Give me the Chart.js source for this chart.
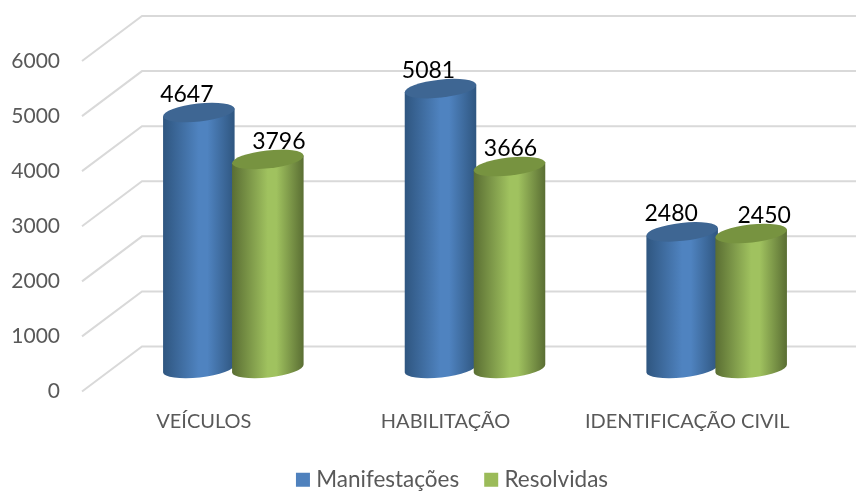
<!DOCTYPE html>
<html lang="pt">
	<head>
		<meta charset="UTF-8" />
		<title>Manifestações</title>
		<script src="https://cdn.jsdelivr.net/npm/chart.js"></script>
		<style>
			html, body { margin: 0; padding: 0; background: #fff; overflow: hidden; }
			#grafico { display: block; }
		</style>
	</head>
	<body>
		<canvas id="grafico" width="856" height="491"></canvas>
		<script>
			const categorias = ["VEÍCULOS", "HABILITAÇÃO", "IDENTIFICAÇÃO CIVIL"];
			const manifestacoes = [4647, 5081, 2480];
			const resolvidas = [3796, 3666, 2450];
			const yTicks = [0, 1000, 2000, 3000, 4000, 5000, 6000];

			const fonte = "Lato, Carlito, sans-serif";

			// profundidade do grafico "3D": parede de tras fica deslocada do plano da frente
			const depthX = 60;
			const depthY = -45;
			// as barras ficam no meio, um pouco mais pra baixo que a metade
			const barDX = 29.5;
			const barDY = -23;

			// ajuste dos rotulos (igual ao original, foram movidos a mao)
			const labelDX = [[-12, -12, -11], [11, 1, 13]];

			const cores = [
				{ edge: "#2f5680", mid: "#4f83c0", top: "#3e6693" },
				{ edge: "#5a6e33", mid: "#a0c25f", top: "#779340" },
			];

			const cilindros = {
				id: "cilindros",
				afterLayout(chart) {
					// legenda centralizada fora do centro, como no original
					chart.legend.left += 45.5;
					chart.legend.right += 45.5;
					chart.legend.top += 10;
					chart.legend.bottom += 10;
				},
				beforeDatasetsDraw(chart) {
					const ctx = chart.ctx;
					const y = chart.scales.y;
					const area = chart.chartArea;

					// paredes
					ctx.save();
					ctx.strokeStyle = "#d9d9d9";
					ctx.lineWidth = 2;
					yTicks.forEach((t) => {
						const py = y.getPixelForValue(t);
						ctx.beginPath();
						ctx.moveTo(area.left - 1, py);
						ctx.lineTo(area.left + depthX - 1, py + depthY);
						ctx.lineTo(chart.width, py + depthY);
						ctx.stroke();
					});
					ctx.restore();

					// cilindros, categoria por categoria pra o verde ficar por cima
					const metas = chart.data.datasets.map((d, i) => chart.getDatasetMeta(i));
					categorias.forEach((c, i) => {
						metas.forEach((meta, d) => {
							const bar = meta.data[i];
							desenhaCilindro(ctx, bar, cores[d]);
						});
					});

					// rotulos de dados
					ctx.save();
					ctx.fillStyle = "#000";
					ctx.font = "23px " + fonte;
					ctx.textAlign = "center";
					ctx.textBaseline = "middle";
					categorias.forEach((c, i) => {
						metas.forEach((meta, d) => {
							const bar = meta.data[i];
							const valor = chart.data.datasets[d].data[i];
							ctx.fillText(valor, bar.x + barDX + labelDX[d][i], bar.y + barDY - 18);
						});
					});
					ctx.restore();

					return false;
				},
				afterDraw(chart) {
					// quadradinhos da legenda mais perto do texto que o padrao do Chart.js
					const ctx = chart.ctx;
					ctx.save();
					chart.legend.legendHitBoxes.forEach((hit, i) => {
						ctx.fillStyle = chart.data.datasets[i].backgroundColor;
						ctx.fillRect(hit.left + 5, hit.top + hit.height / 2 - 7, 14, 14);
					});
					ctx.restore();
				},
			};

			function desenhaCilindro(ctx, bar, cor) {
				const rx = bar.width / 2;
				const ry = 9;
				const rot = -0.11;
				const cx = bar.x + barDX;
				const topo = bar.y + barDY;
				const base = bar.base + barDY;
				const dy = Math.sin(rot) * rx;
				const dx = Math.cos(rot) * rx;

				const grad = ctx.createLinearGradient(cx - dx, 0, cx + dx, 0);
				grad.addColorStop(0, cor.edge);
				grad.addColorStop(0.5, cor.mid);
				grad.addColorStop(0.62, cor.mid);
				grad.addColorStop(1, cor.edge);

				ctx.save();
				ctx.fillStyle = grad;
				ctx.beginPath();
				ctx.moveTo(cx - dx, topo - dy);
				ctx.lineTo(cx - dx, base - dy);
				ctx.ellipse(cx, base, rx, ry, rot, Math.PI, 0, true);
				ctx.lineTo(cx + dx, topo + dy);
				ctx.closePath();
				ctx.fill();

				ctx.fillStyle = cor.top;
				ctx.beginPath();
				ctx.ellipse(cx, topo, rx, ry, rot, 0, Math.PI * 2);
				ctx.fill();
				ctx.restore();
			}

			new Chart(document.getElementById("grafico"), {
				type: "bar",
				data: {
					labels: categorias,
					datasets: [
						{ label: "Manifestações", data: manifestacoes, backgroundColor: "#4f81bd", categoryPercentage: 0.571, barPercentage: 1.043 },
						{ label: "Resolvidas", data: resolvidas, backgroundColor: "#9bbb59", categoryPercentage: 0.571, barPercentage: 1.043 },
					],
				},
				plugins: [cilindros],
				options: {
					responsive: false,
					animation: false,
					layout: { padding: { top: 61, right: 48, bottom: 0, left: 0 } },
					scales: {
						x: {
							grid: { display: false },
							border: { display: false },
							ticks: { color: "#595959", font: { family: fonte, size: 20 }, padding: 10, maxRotation: 0, autoSkip: false },
							afterFit(scale) {
								scale.height = 47;
							},
						},
						y: {
							min: 0,
							max: 6000,
							grid: { display: false },
							border: { display: false },
							ticks: {
								color: "#595959",
								font: { family: fonte, size: 21 },
								padding: 15,
								stepSize: 1000,
								callback: (v) => String(v),
							},
							afterFit(scale) {
								scale.width = 83;
							},
						},
					},
					plugins: {
						tooltip: { enabled: false },
						legend: {
							position: "bottom",
							labels: {
								color: "#595959",
								font: { family: fonte, size: 22.5 },
								boxWidth: 14,
								boxHeight: 14,
								padding: 20,
								generateLabels: (chart) =>
									Chart.defaults.plugins.legend.labels.generateLabels(chart).map((item) => ({
										...item,
										fillStyle: "transparent",
										strokeStyle: "transparent",
									})),
							},
						},
					},
				},
			});
		</script>
	</body>
</html>
